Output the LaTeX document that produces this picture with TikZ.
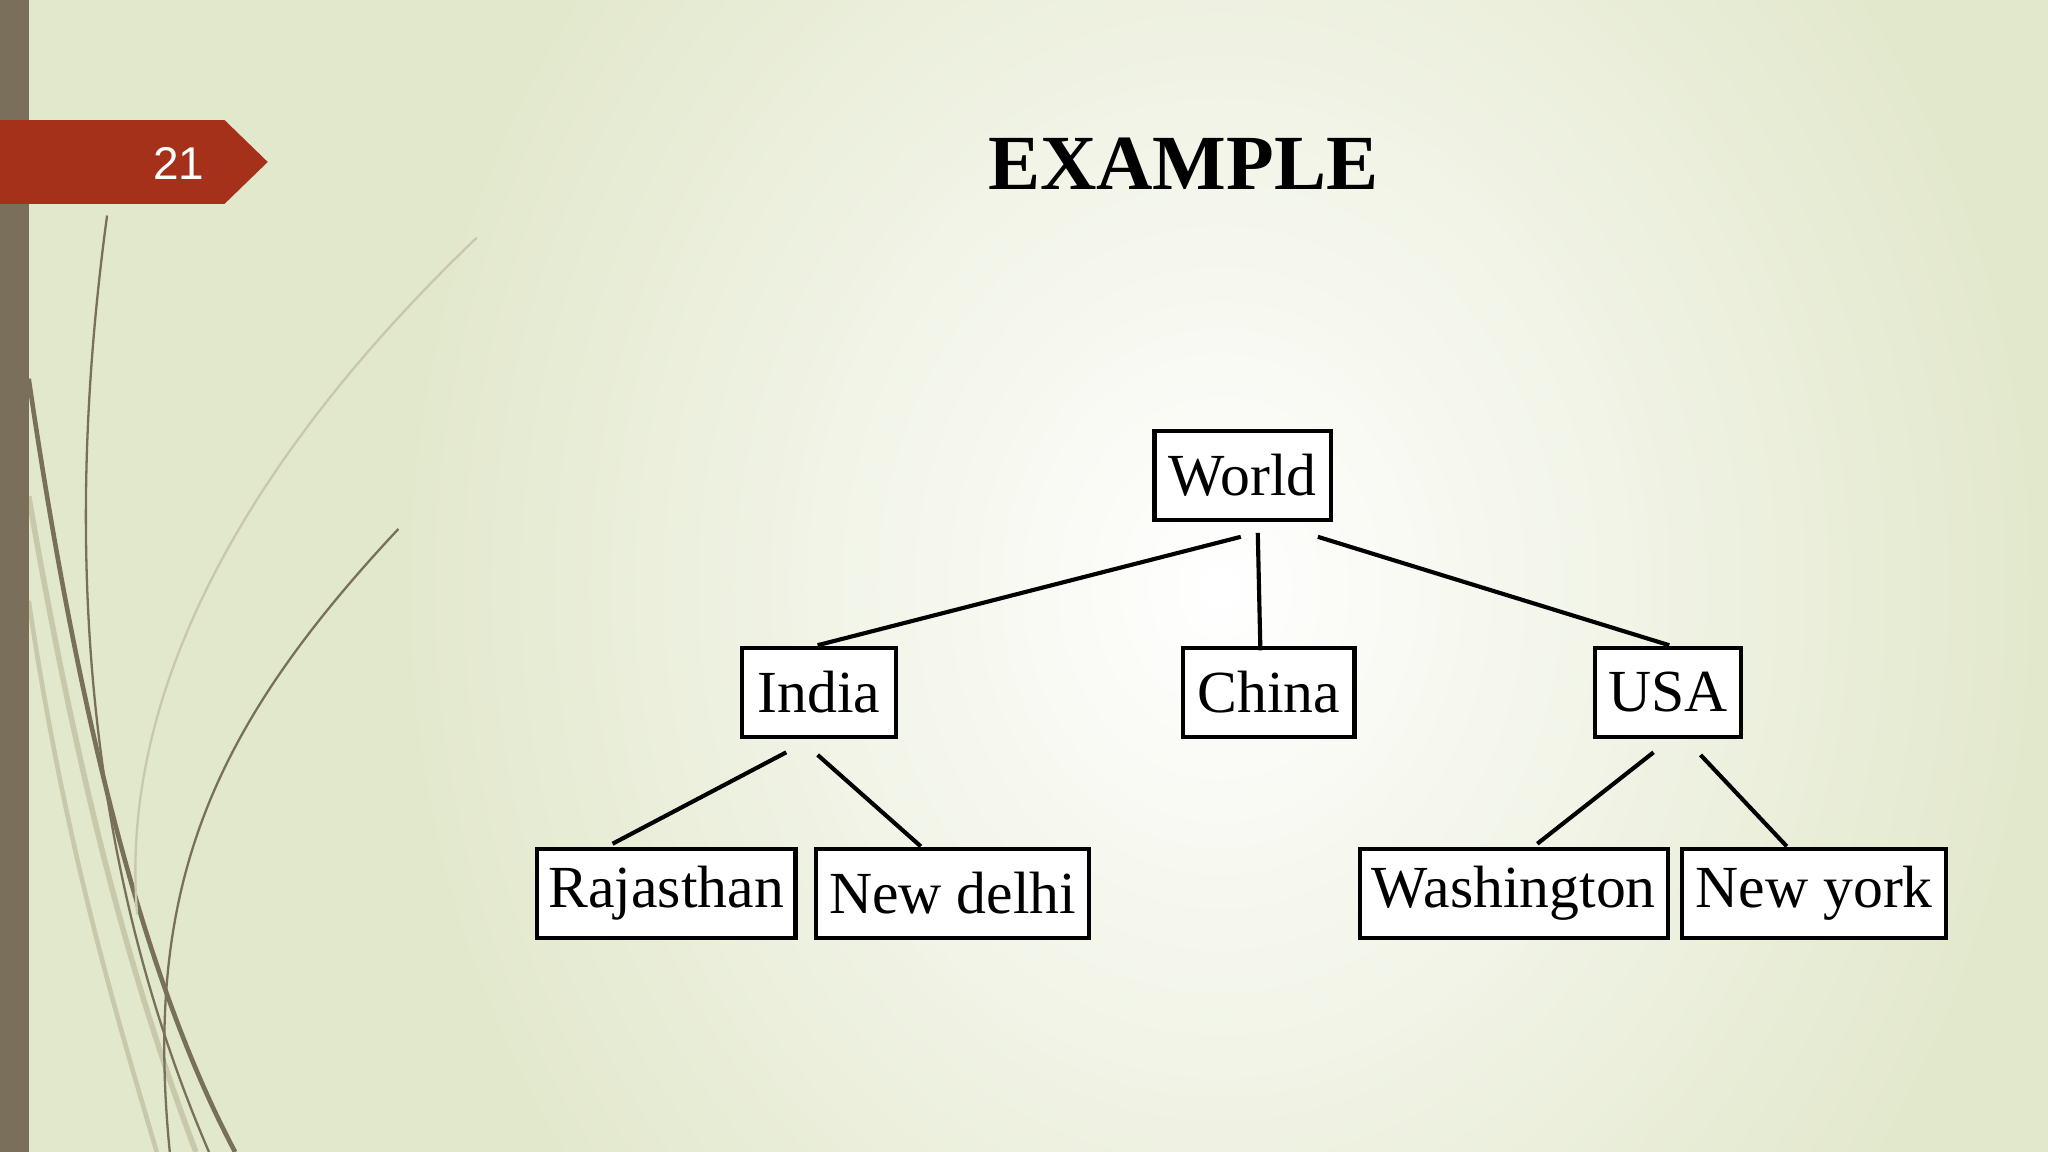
\documentclass[tikz,border=0pt]{standalone}
\usepackage{fontspec}
\setmainfont{Liberation Serif}
\newfontfamily\slidesans{Liberation Sans}
\definecolor{olivedark}{RGB}{120,112,90}
\definecolor{olivelight}{RGB}{200,200,170}
\definecolor{barcol}{RGB}{122,111,90}
\definecolor{tabred}{RGB}{166,49,26}
\definecolor{bgedge}{RGB}{226,232,204}
\begin{document}
\begin{tikzpicture}[x=0.01cm,y=-0.01cm,
  box/.style={draw=black,line width=0.9pt,fill=white,inner sep=0pt,minimum height=0.68cm,font=\fontsize{13}{15}\selectfont},
  link/.style={line width=0.9pt,draw=black},
  curve/.style={draw=#1,line width=0.5pt}]
\useasboundingbox (0,0) rectangle (1568,882);
\fill[bgedge] (0,0) rectangle (1568,882);
\shade[inner color=white,outer color=bgedge] (300,-300) rectangle (1568,1200);
% left curves
\draw[curve=olivedark] (82,165) .. controls (50,400) and (60,650) .. (160,882);
\draw[curve=olivelight,line width=1.2pt] (22,380) .. controls (60,600) and (100,750) .. (150,882);
\draw[curve=olivedark,line width=1pt] (22,290) .. controls (60,550) and (110,750) .. (180,882);
\draw[curve=olivelight] (365,182) .. controls (200,340) and (90,520) .. (105,700);
\draw[curve=olivedark] (305,405) .. controls (160,560) and (110,680) .. (130,882);
\draw[curve=olivelight,line width=1pt] (22,460) .. controls (50,650) and (90,780) .. (120,882);
\fill[barcol] (0,0) rectangle (22,882);
\fill[tabred] (0,92) -- (172,92) -- (205,124) -- (172,156) -- (0,156) -- cycle;
\node[text=white,font=\slidesans\fontsize{10}{12}\selectfont] (num) at (137,125) {21};
\node[font=\bfseries\fontsize{17}{20}\selectfont] (title) at (906,125) {EXAMPLE};
% boxes
\node[box,minimum width=1.35cm] (world) at (951.5,364) {World};
\node[box,minimum width=1.18cm] (india) at (627,530) {India};
\node[box,minimum width=1.31cm] (china) at (971.5,530) {China};
\node[box,minimum width=1.12cm] (usa) at (1277,530) {USA};
\node[box,minimum width=1.98cm] (raj) at (510,684) {Rajasthan};
\node[box,minimum width=2.09cm] (del) at (729.5,684) {New delhi};
\node[box,minimum width=2.36cm] (was) at (1159,684) {Washington};
\node[box,minimum width=2.02cm] (ny) at (1389,684) {New york};
% connector endpoints
\coordinate (w1) at (950,411); \coordinate (i1) at (626,494);
\coordinate (w2) at (963,408); \coordinate (c1) at (965,498);
\coordinate (w3) at (1009,411); \coordinate (u1) at (1278,494);
\coordinate (i2) at (602,576); \coordinate (r1) at (469,646);
\coordinate (i3) at (626,578); \coordinate (d1) at (705,648);
\coordinate (u2) at (1266,576); \coordinate (wa1) at (1177,646);
\coordinate (u3) at (1302,578); \coordinate (n1) at (1368,648);
\draw[link] (w1) -- (i1);
\draw[link] (w2) -- (c1);
\draw[link] (w3) -- (u1);
\draw[link] (i2) -- (r1);
\draw[link] (i3) -- (d1);
\draw[link] (u2) -- (wa1);
\draw[link] (u3) -- (n1);
\end{tikzpicture}
\end{document}
